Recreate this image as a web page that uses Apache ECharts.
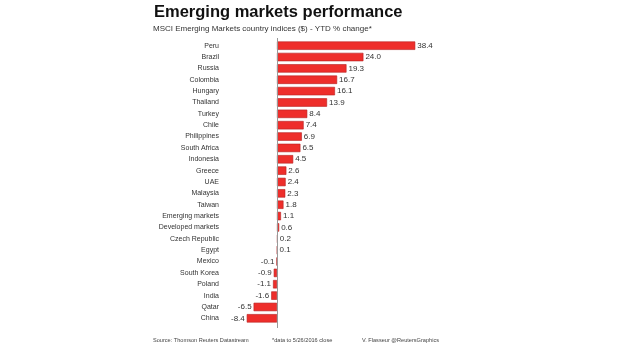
<!DOCTYPE html>
<html>
<head>
<meta charset="utf-8">
<script src="https://cdn.jsdelivr.net/npm/echarts@6/dist/echarts.min.js"></script>
<style>
html,body{margin:0;padding:0;background:#fff;}
#c{width:620px;height:354px;}
</style>
</head>
<body>
<div id="c"></div>
<script>
var categories = ["Peru","Brazil","Russia","Colombia","Hungary","Thailand","Turkey","Chile","Philippines","South Africa","Indonesia","Greece","UAE","Malaysia","Taiwan","Emerging markets","Developed markets","Czech Republic","Egypt","Mexico","South Korea","Poland","India","Qatar","China"];
var values = [38.4,24.0,19.3,16.7,16.1,13.9,8.4,7.4,6.9,6.5,4.5,2.6,2.4,2.3,1.8,1.1,0.6,0.2,0.1,-0.1,-0.9,-1.1,-1.6,-6.5,-8.4];
var titleText = "Emerging markets performance";
var subtitleText = "MSCI Emerging Markets country indices ($) - YTD % change*";
var footnotes = ["Source: Thomson Reuters Datastream","*data to 5/26/2016 close","V. Flasseur @ReutersGraphics"];

var chart = echarts.init(document.getElementById('c'), null, {renderer:'canvas'});
var font = "'Liberation Sans', Arial, sans-serif";
var data = values.map(function(v){
  return {
    value: v,
    label: {position: v < 0 ? 'left' : 'right'}
  };
});
chart.setOption({
  animation: false,
  backgroundColor: '#fff',
  title: [
    {text: titleText, left: 154, top: 4, padding: 0, textStyle:{fontFamily: font, fontSize: 16.5, fontWeight: 'bold', color: '#111'}},
    {text: subtitleText, left: 153, top: 25, padding: 0, textStyle:{fontFamily: font, fontSize: 8, fontWeight: 'normal', color: '#333'}},
    {text: footnotes[0], left: 153, top: 337, padding: 0, textStyle:{fontFamily: font, fontSize: 5.6, fontWeight: 'normal', color: '#444'}},
    {text: footnotes[1], left: 272, top: 337, padding: 0, textStyle:{fontFamily: font, fontSize: 5.6, fontWeight: 'normal', color: '#444'}},
    {text: footnotes[2], left: 362, top: 337, padding: 0, textStyle:{fontFamily: font, fontSize: 5.6, fontWeight: 'normal', color: '#444'}}
  ],
  grid: {left: 241, width: 180, top: 40, height: 284, containLabel: false},
  xAxis: {
    type: 'value', min: -10, max: 40, show: false
  },
  yAxis: {
    type: 'category', data: categories, inverse: true,
    axisLine: {show: false},
    axisTick: {show: false},
    axisLabel: {margin: 22, fontFamily: font, fontSize: 7, color: '#333'},
    splitLine: {show: false}
  },
  series: [{
    type: 'bar',
    data: data,
    barCategoryGap: '26%',
    itemStyle: {color: '#ee2e2b', borderColor: '#b52020', borderWidth: 0.6},
    label: {show: true, distance: 2, fontFamily: font, fontSize: 8, color: '#333',
      formatter: function(p){ return p.value.toFixed(1); }},
    markLine: {
      silent: true, symbol: 'none', animation: false,
      lineStyle: {color: '#999', width: 1, type: 'solid'},
      label: {show: false},
      data: [[{coord: [0, 'Peru'], y: 38}, {coord: [0, 'China'], y: 328}]]
    }
  }]
});
</script>
</body>
</html>
